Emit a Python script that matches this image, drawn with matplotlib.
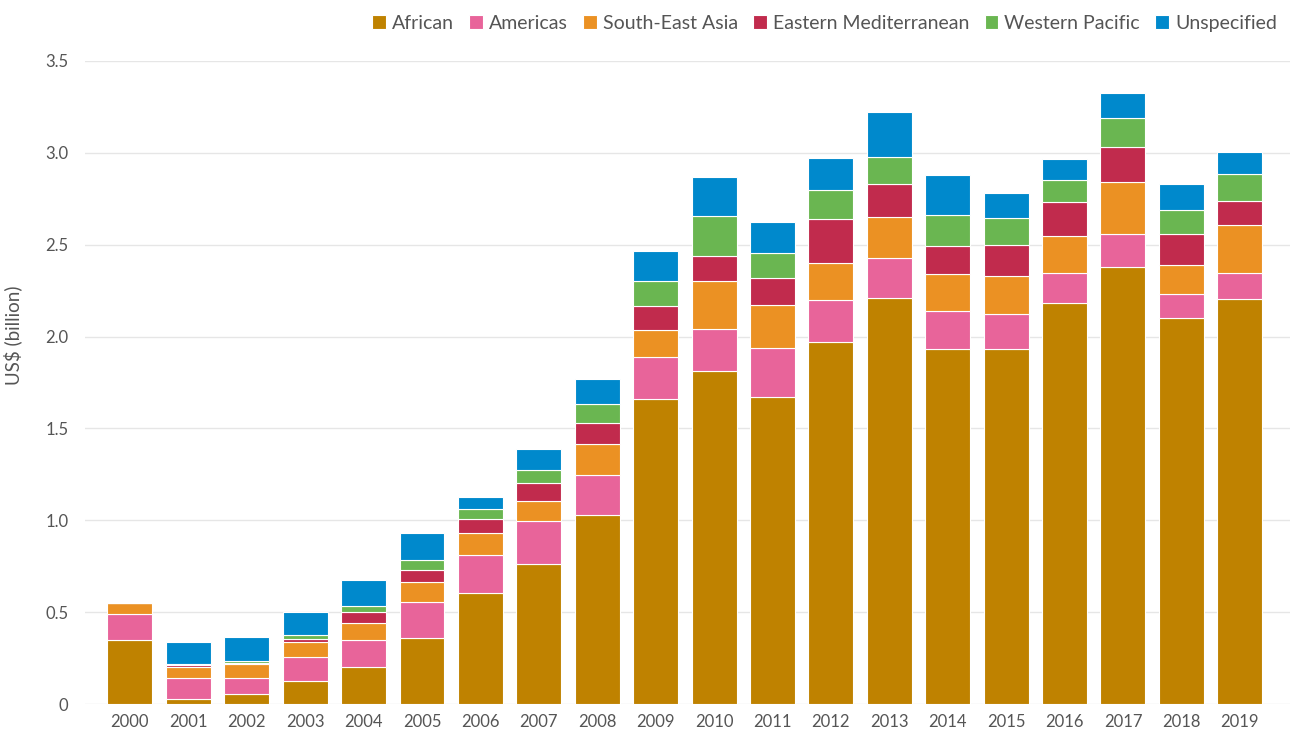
import matplotlib
matplotlib.use("Agg")
import matplotlib.pyplot as plt
import numpy as np
from matplotlib.ticker import FuncFormatter

plt.rcParams['font.family'] = ['Lato', 'DejaVu Sans']

years = [str(y) for y in range(2000, 2020)]

# values in US$ billion
african = [0.35, 0.03, 0.053, 0.127, 0.20, 0.36, 0.606, 0.764, 1.029, 1.659,
           1.813, 1.673, 1.971, 2.21, 1.934, 1.932, 2.183, 2.377, 2.101, 2.206]
americas = [0.14, 0.11, 0.087, 0.127, 0.147, 0.195, 0.205, 0.232, 0.218, 0.23,
            0.23, 0.263, 0.23, 0.218, 0.205, 0.191, 0.163, 0.182, 0.131, 0.138]
south_east_asia = [0.06, 0.06, 0.08, 0.085, 0.096, 0.11, 0.118, 0.107, 0.167, 0.147,
                   0.26, 0.236, 0.201, 0.223, 0.204, 0.207, 0.203, 0.283, 0.159, 0.263]
eastern_med = [0.0, 0.01, 0.005, 0.013, 0.057, 0.065, 0.076, 0.102, 0.114, 0.131,
               0.136, 0.145, 0.24, 0.178, 0.152, 0.169, 0.185, 0.192, 0.168, 0.131]
western_pacific = [0.0, 0.01, 0.01, 0.022, 0.032, 0.053, 0.055, 0.069, 0.103, 0.137,
                   0.219, 0.138, 0.158, 0.149, 0.169, 0.148, 0.12, 0.156, 0.132, 0.147]
unspecified = [0.0, 0.12, 0.13, 0.128, 0.145, 0.147, 0.068, 0.112, 0.137, 0.16,
               0.212, 0.171, 0.17, 0.243, 0.217, 0.136, 0.113, 0.136, 0.138, 0.121]

series = [
    ("African", african, "#BF8200"),
    ("Americas", americas, "#E8649A"),
    ("South-East Asia", south_east_asia, "#EB9123"),
    ("Eastern Mediterranean", eastern_med, "#C12B4D"),
    ("Western Pacific", western_pacific, "#6AB651"),
    ("Unspecified", unspecified, "#0089CC"),
]

fig = plt.figure(figsize=(12.93, 7.31), dpi=100)
ax = fig.add_axes([0.0657, 0.0369, 0.932, 0.8797])

x = np.arange(len(years))
bottom = np.zeros(len(years))
for name, vals, color in series:
    vals = np.array(vals)
    ax.bar(x, vals, 0.77, bottom=bottom, color=color, label=name,
           edgecolor="white", linewidth=0.8, zorder=3)
    bottom += vals

ax.set_xlim(-0.77, 19.86)
ax.set_ylim(0, 3.5)
ax.set_yticks(np.arange(0, 3.51, 0.5))
ax.yaxis.set_major_formatter(FuncFormatter(lambda v, p: "0" if v == 0 else f"{v:.1f}"))
ax.set_xticks(x)
ax.set_xticklabels(years)
ax.grid(axis="y", color="#e6e6e6", linewidth=1, zorder=0)
for s in ax.spines.values():
    s.set_visible(False)
ax.tick_params(axis="both", length=0, labelsize=12, labelcolor="#555555")
ax.tick_params(axis="y", pad=12)
ax.tick_params(axis="x", pad=7)

ax.set_ylabel("US$ (billion)", fontsize=13.5, color="#555555")
ax.yaxis.set_label_coords(-0.052, 0.574)

ax.legend(loc="center right", bbox_to_anchor=(0.989, 1.059), ncol=6, frameon=False,
          fontsize=14, labelcolor="#555555", handlelength=0.7, handleheight=0.7,
          handletextpad=0.3, columnspacing=0.8, borderaxespad=0, borderpad=0)

fig.savefig("out.png", dpi=100)
